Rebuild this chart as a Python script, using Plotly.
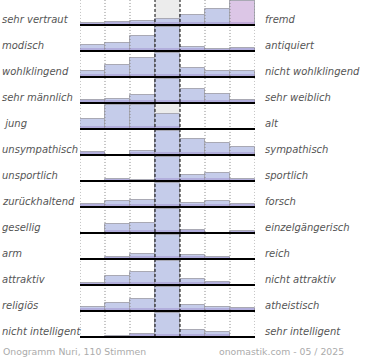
import plotly.graph_objects as go

left_labels = ["sehr vertraut", "modisch", "wohlklingend", "sehr männlich", "\u00a0jung",
               "unsympathisch", "unsportlich", "zurückhaltend", "gesellig", "arm",
               "attraktiv", "religiös", "nicht intelligent"]
right_labels = ["fremd", "antiquiert", "nicht wohlklingend", "sehr weiblich", "alt",
                "sympathisch", "sportlich", "forsch", "einzelgängerisch", "reich",
                "nicht attraktiv", "atheistisch", "sehr intelligent"]

# share of each answer step, in percent of the row's most frequent answer
vertraut_fremd = [7, 11, 17, 26, 42, 65, 100]
modisch_antiquiert = [24, 32, 63, 100, 15, 9, 13]
wohlklingend_nicht = [26, 50, 78, 100, 38, 24, 24]
maennlich_weiblich = [13, 17, 32, 100, 58, 35, 12]
jung_alt = [39, 100, 100, 63, 0, 0, 0]
unsympathisch_sympathisch = [12, 0, 18, 100, 66, 47, 32]
unsportlich_sportlich = [0, 9, 5, 100, 25, 34, 8]
zurueckhaltend_forsch = [12, 25, 29, 100, 16, 25, 12]
gesellig_einzelgaenger = [0, 36, 39, 100, 14, 0, 9]
arm_reich = [0, 9, 22, 100, 18, 8, 0]
attraktiv_nicht = [10, 38, 54, 100, 25, 13, 0]
religioes_atheistisch = [18, 34, 47, 100, 26, 18, 13]
intelligent_nicht = [0, 5, 13, 100, 30, 21, 0]

rows = [vertraut_fremd, modisch_antiquiert, wohlklingend_nicht, maennlich_weiblich,
        jung_alt, unsympathisch_sympathisch, unsportlich_sportlich, zurueckhaltend_forsch,
        gesellig_einzelgaenger, arm_reich, attraktiv_nicht, religioes_atheistisch,
        intelligent_nicht]
steps = [1, 2, 3, 4, 5, 6, 7]
highlight = (0, 6)  # (row, step) drawn in pink

FULL = 0.94
n = len(rows)
xs, bases, hs, cols, band = [], [], [], [], []
for i, r in enumerate(rows):
    base = -(i + 1)
    for j, v in enumerate(r):
        h = v / 100 * FULL
        xs.append(steps[j])
        bases.append(base)
        hs.append(h)
        cols.append("#dcc6e6" if (i, j) == highlight else "#c5ccea")
        band.append(min(h, 0.13))

fig = go.Figure()
fig.add_trace(go.Bar(x=xs, y=hs, base=bases, width=1, marker=dict(color=cols,
                     line=dict(color="#a9a9b4", width=1)), hoverinfo="skip"))
fig.add_trace(go.Bar(x=xs, y=band, base=bases, width=1,
                     marker=dict(color="rgba(135,105,190,0.3)", line=dict(width=0)),
                     hoverinfo="skip"))

top = -0.04
bottom = -n - 0.04
shapes = [dict(type="rect", xref="x", yref="y", x0=3.5, x1=4.5, y0=-n, y1=top,
               fillcolor="#ececec", line=dict(width=0), layer="below")]
for xb in [0.5, 1.5, 2.5, 5.5, 6.5, 7.5]:
    shapes.append(dict(type="line", xref="x", yref="y", x0=xb, x1=xb, y0=-n, y1=top,
                       line=dict(color="#8a8a8a", width=1, dash="1px,2px"), layer="above"))
for xb in [3.5, 4.5]:
    shapes.append(dict(type="line", xref="x", yref="y", x0=xb, x1=xb, y0=-n, y1=top,
                       line=dict(color="#000000", width=1, dash="3px,2px"), layer="above"))
for i in range(n):
    shapes.append(dict(type="line", xref="x", yref="y", x0=0.5, x1=7.55, y0=-(i + 1), y1=-(i + 1),
                       line=dict(color="#000000", width=2), layer="above"))

lab_font = dict(family="DejaVu Sans", size=10, color="#555555", style="italic")
ann = []
for i in range(n):
    ann.append(dict(xref="paper", yref="y", x=0, xshift=-80, y=-(i + 1) + 0.2,
                    text=left_labels[i], showarrow=False, xanchor="left", yanchor="middle",
                    font=lab_font))
    ann.append(dict(xref="paper", yref="y", x=1, xshift=8, y=-(i + 1) + 0.2,
                    text=right_labels[i], showarrow=False, xanchor="left", yanchor="middle",
                    font=lab_font))
foot_font = dict(family="DejaVu Sans", size=9.3, color="#ababab")
ann.append(dict(xref="paper", yref="paper", x=0, xshift=-79, y=-0.041, text="Onogramm Nuri, 110 Stimmen",
                showarrow=False, xanchor="left", yanchor="middle", font=foot_font))
ann.append(dict(xref="paper", yref="paper", x=1, xshift=91, y=-0.041, text="onomastik.com - 05 / 2025",
                showarrow=False, xanchor="right", yanchor="middle", font=foot_font))

fig.update_layout(
    width=370, height=360, margin=dict(l=80, r=115, t=0, b=22),
    paper_bgcolor="white", plot_bgcolor="white", barmode="overlay", bargap=0,
    showlegend=False, shapes=shapes, annotations=ann,
    xaxis=dict(range=[0.5, 7.5], visible=False, fixedrange=True),
    yaxis=dict(range=[bottom, top], visible=False, fixedrange=True),
)
fig.write_html("out.html", config={"displayModeBar": False},
               post_script="document.body.style.margin='0';document.body.style.overflow='hidden';")
